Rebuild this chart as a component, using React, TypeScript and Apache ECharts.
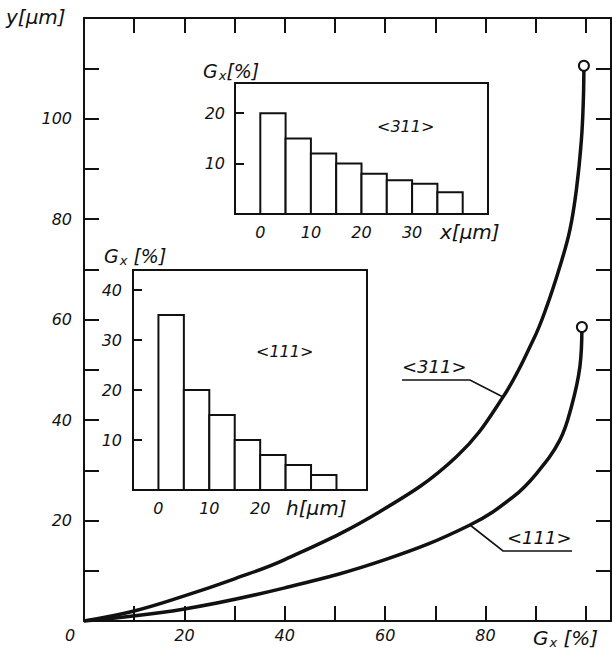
import React, { useEffect, useRef } from "react";
import * as echarts from "echarts";

// Main chart: cumulative curves y[µm] vs Gx[%]
const curve311X = [0, 10, 20, 30, 40, 59, 74.2, 83.5, 89.5, 92.1, 94.8, 96.8, 98.1, 99.1, 99.5, 99.6];
const curve311Y = [0, 2, 5, 8.4, 12.2, 21.8, 32.7, 44.6, 55.9, 62.3, 70.5, 77.8, 85.8, 95.7, 104, 110.5];
const curve111X = [0, 20, 40, 60, 76.9, 85.5, 90.2, 94.8, 97.1, 98.8, 99.2];
const curve111Y = [0, 2.4, 6.6, 12.2, 19.1, 24.7, 29.4, 36, 42.6, 50.6, 58.5];

const mainXLabels = [0, 20, 40, 60, 80];
const mainYLabels = [20, 40, 60, 80, 100];

// Inset <311>: histogram Gx[%] over x[µm]
const bins311Start = [0, 5, 10, 15, 20, 25, 30, 35];
const bins311Value = [20, 15, 12, 10, 8, 6.7, 6, 4.3];
const inset311XLabels = [0, 10, 20, 30];
const inset311YLabels = [10, 20];

// Inset <111>: histogram Gx[%] over h[µm]
const bins111Start = [0, 5, 10, 15, 20, 25, 30];
const bins111Value = [35, 20, 15, 10, 7, 5, 3];
const inset111XLabels = [0, 10, 20];
const inset111YLabels = [10, 20, 30, 40];

const BIN_WIDTH = 5;
const FONT = "'DejaVu Sans', 'Liberation Sans', Arial, sans-serif";
const BLACK = "#111";

function pairs(xs: number[], ys: number[]) {
  return xs.map((x, i) => [x, ys[i]]);
}

function withEndCircle(pts: number[][]) {
  return pts.map((p, i) =>
    i === pts.length - 1
      ? {
          value: p,
          symbol: "circle",
          symbolSize: 10,
          itemStyle: { color: "#fff", borderColor: BLACK, borderWidth: 2 },
        }
      : { value: p, symbol: "none" }
  );
}

function barRender(params: any, api: any) {
  const x0 = api.value(0);
  const x1 = api.value(1);
  const h = api.value(2);
  const p0 = api.coord([x0, 0]);
  const p1 = api.coord([x1, h]);
  return {
    type: "rect",
    shape: { x: p0[0], y: p1[1], width: p1[0] - p0[0], height: p0[1] - p1[1] },
    style: { fill: "#fff", stroke: BLACK, lineWidth: 2 },
  };
}

const labelStyle = (size: number) => ({
  fontFamily: FONT,
  fontStyle: "italic",
  fontSize: size,
  color: BLACK,
});

function gfont(size: number) {
  return {
    fontFamily: FONT,
    fontStyle: "italic",
    fontSize: size,
    fill: BLACK,
  };
}

export default function App() {
  const ref = useRef<HTMLDivElement>(null);

  useEffect(() => {
    if (!ref.current) return;
    const chart = echarts.init(ref.current, undefined, { renderer: "svg" });

    const axisLine = { show: true, onZero: false, lineStyle: { color: BLACK, width: 2 } };
    const noLine = { show: false, onZero: false };
    const mainTick = { show: true, inside: true, length: 15, lineStyle: { color: BLACK, width: 2 } };
    const insetTick = { show: true, inside: true, length: 9, lineStyle: { color: BLACK, width: 2 } };

    const option: any = {
      animation: false,
      backgroundColor: "#fff",
      grid: [
        { left: 84, top: 18, width: 527, height: 603 },
        { left: 235, top: 83, width: 253, height: 131, show: true, borderColor: BLACK, borderWidth: 2, backgroundColor: "transparent" },
        { left: 133, top: 270, width: 234, height: 220, show: true, borderColor: BLACK, borderWidth: 2, backgroundColor: "transparent" },
      ],
      xAxis: [
        {
          gridIndex: 0, type: "value", min: 0, max: 105, interval: 10, position: "bottom",
          axisLine, axisTick: mainTick, splitLine: { show: false },
          axisLabel: {
            ...labelStyle(16), margin: 6, showMaxLabel: false,
            formatter: (v: number) => (v === 0 ? "{z|0}" : mainXLabels.includes(v) ? String(v) : ""),
            rich: { z: { ...labelStyle(16), padding: [0, 28, 0, 0] } },
          },
        },
        {
          gridIndex: 0, type: "value", min: 0, max: 105, interval: 10, position: "top",
          axisLine, axisTick: mainTick, splitLine: { show: false }, axisLabel: { show: false },
        },
        {
          gridIndex: 1, type: "value", min: -5, max: 45, interval: 5,
          axisLine: noLine, axisTick: { show: false }, splitLine: { show: false },
          axisLabel: {
            ...labelStyle(16), margin: 10,
            formatter: (v: number) => (inset311XLabels.includes(v) ? String(v) : ""),
          },
        },
        {
          gridIndex: 2, type: "value", min: -5, max: 41, interval: 5,
          axisLine: noLine, axisTick: { show: false }, splitLine: { show: false },
          axisLabel: {
            ...labelStyle(16), margin: 10,
            formatter: (v: number) => (inset111XLabels.includes(v) ? String(v) : ""),
          },
        },
      ],
      yAxis: [
        {
          gridIndex: 0, type: "value", min: 0, max: 120, interval: 10, position: "left",
          axisLine, axisTick: mainTick, splitLine: { show: false },
          axisLabel: {
            ...labelStyle(16), margin: 12,
            formatter: (v: number) => (mainYLabels.includes(v) ? String(v) : ""),
          },
        },
        {
          gridIndex: 0, type: "value", min: 0, max: 120, interval: 10, position: "right",
          axisLine, axisTick: mainTick, splitLine: { show: false }, axisLabel: { show: false },
        },
        {
          gridIndex: 1, type: "value", min: 0, max: 26, interval: 10, position: "left",
          axisLine: noLine, axisTick: insetTick, splitLine: { show: false },
          axisLabel: {
            ...labelStyle(16), margin: 10,
            formatter: (v: number) => (inset311YLabels.includes(v) ? String(v) : ""),
          },
        },
        {
          gridIndex: 2, type: "value", min: 0, max: 44, interval: 10, position: "left",
          axisLine: noLine, axisTick: insetTick, splitLine: { show: false },
          axisLabel: {
            ...labelStyle(16), margin: 11,
            formatter: (v: number) => (inset111YLabels.includes(v) ? String(v) : ""),
          },
        },
      ],
      series: [
        {
          type: "line", xAxisIndex: 0, yAxisIndex: 0, smooth: 0.4,
          showSymbol: true, symbol: "none",
          lineStyle: { color: BLACK, width: 3.5 },
          data: withEndCircle(pairs(curve311X, curve311Y)),
          z: 3,
        },
        {
          type: "line", xAxisIndex: 0, yAxisIndex: 0, smooth: 0.4,
          showSymbol: true, symbol: "none",
          lineStyle: { color: BLACK, width: 3.5 },
          data: withEndCircle(pairs(curve111X, curve111Y)),
          z: 3,
        },
        {
          type: "custom", xAxisIndex: 2, yAxisIndex: 2, renderItem: barRender,
          encode: { x: [0, 1], y: 2 },
          data: bins311Start.map((s, i) => [s, s + BIN_WIDTH, bins311Value[i]]),
        },
        {
          type: "custom", xAxisIndex: 3, yAxisIndex: 3, renderItem: barRender,
          encode: { x: [0, 1], y: 2 },
          data: bins111Start.map((s, i) => [s, s + BIN_WIDTH, bins111Value[i]]),
        },
      ],
      graphic: [
        // main axis names
        { type: "text", left: 6, top: 7, style: { text: "y[μm]", ...gfont(20) } },
        {
          type: "text", left: 533, top: 628,
          style: {
            text: "G{s|x} [%]", ...gfont(20),
            rich: { s: { ...gfont(13), padding: [9, 0, 0, 1] } },
          },
        },
        // inset axis names
        {
          type: "text", left: 203, top: 61,
          style: { text: "G{s|x}[%]", ...gfont(19), rich: { s: { ...gfont(13), padding: [9, 0, 0, 1] } } },
        },
        { type: "text", left: 440, top: 222, style: { text: "x[μm]", ...gfont(20) } },
        {
          type: "text", left: 104, top: 246,
          style: { text: "G{s|x} [%]", ...gfont(19), rich: { s: { ...gfont(13), padding: [9, 0, 0, 1] } } },
        },
        { type: "text", left: 286, top: 498, style: { text: "h[μm]", ...gfont(20) } },
        // inset orientation labels
        { type: "text", left: 377, top: 118, style: { text: "<311>", ...gfont(16) } },
        { type: "text", left: 256, top: 343, style: { text: "<111>", ...gfont(16) } },
        // curve labels with leader lines
        { type: "text", left: 402, top: 357, style: { text: "<311>", ...gfont(18) } },
        {
          type: "polyline",
          shape: { points: [[402, 380], [470, 380], [503, 397]] },
          style: { stroke: BLACK, lineWidth: 1.6, fill: "none" },
        },
        { type: "text", left: 507, top: 528, style: { text: "<111>", ...gfont(18) } },
        {
          type: "polyline",
          shape: { points: [[572, 551], [503, 551], [470, 525]] },
          style: { stroke: BLACK, lineWidth: 1.6, fill: "none" },
        },
      ],
    };

    chart.setOption(option);
    return () => chart.dispose();
  }, []);

  return (
    <div
      ref={ref}
      style={{ position: "absolute", left: 0, top: 0, width: 612, height: 656, background: "#fff" }}
    />
  );
}
